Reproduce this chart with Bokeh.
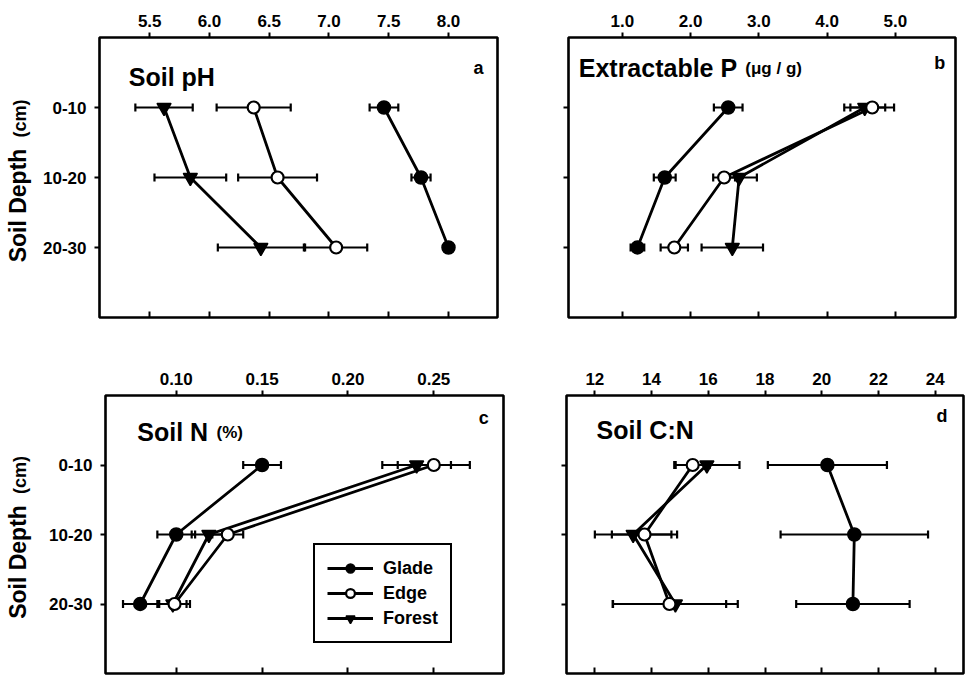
import math
from bokeh.plotting import figure
from bokeh.models import (Range1d, LinearAxis, FixedTicker, Whisker, TeeHead,
                          ColumnDataSource, Label, Legend, LegendItem, PrintfTickFormatter)
from bokeh.layouts import row, column
from bokeh.embed import file_html
from bokeh.resources import INLINE

# ---------------- data ----------------
depth_pos = [1, 2, 3]
depth_labels = ["0-10", "10-20", "20-30"]
series_names = ["Glade", "Edge", "Forest"]

ph_glade = [7.46, 7.77, 8.00]
ph_glade_se = [0.12, 0.08, 0.03]
ph_edge = [6.37, 6.57, 7.06]
ph_edge_se = [0.31, 0.33, 0.26]
ph_forest = [5.62, 5.84, 6.43]
ph_forest_se = [0.24, 0.30, 0.36]

p_glade = [2.55, 1.62, 1.22]
p_glade_se = [0.21, 0.16, 0.10]
p_edge = [4.66, 2.49, 1.76]
p_edge_se = [0.32, 0.16, 0.20]
p_forest = [4.55, 2.71, 2.61]
p_forest_se = [0.30, 0.26, 0.45]

n_glade = [0.150, 0.100, 0.079]
n_glade_se = [0.011, 0.011, 0.010]
n_edge = [0.250, 0.130, 0.099]
n_edge_se = [0.021, 0.009, 0.009]
n_forest = [0.240, 0.119, 0.098]
n_forest_se = [0.020, 0.010, 0.008]

cn_glade = [20.2, 21.15, 21.1]
cn_glade_se = [2.1, 2.6, 2.0]
cn_edge = [15.45, 13.75, 14.63]
cn_edge_se = [0.6, 1.15, 2.0]
cn_forest = [15.95, 13.35, 14.84]
cn_forest_se = [1.15, 1.35, 2.2]

ph_ticks = [5.5, 6.0, 6.5, 7.0, 7.5, 8.0]
p_ticks = [1.0, 2.0, 3.0, 4.0, 5.0]
n_ticks = [0.10, 0.15, 0.20, 0.25]
cn_ticks = [12, 14, 16, 18, 20, 22, 24]

y_title = ["Soil Depth", "(cm)"]

FONT = "Liberation Sans"


def make_panel(x0, x1, ticks, fmt, width, height, bl, br, bt, bb, ylabels):
    p = figure(width=width, height=height, x_range=Range1d(x0, x1), y_range=Range1d(4, 0),
               x_axis_location="above", toolbar_location=None, output_backend="svg",
               min_border_left=bl, min_border_right=br, min_border_top=bt, min_border_bottom=bb,
               background_fill_color="white", border_fill_color="white")
    p.grid.visible = False
    p.outline_line_color = "black"
    p.outline_line_width = 2.6
    p.outline_line_alpha = 1.0

    top = p.xaxis[0]
    top.ticker = FixedTicker(ticks=ticks, minor_ticks=[])
    top.formatter = PrintfTickFormatter(format=fmt)
    top.axis_line_color = None
    top.major_tick_in = 0
    top.major_tick_out = 5
    top.major_tick_line_width = 2
    top.major_tick_line_color = "black"
    top.minor_tick_line_color = None
    top.major_label_text_font = FONT
    top.major_label_text_font_style = "bold"
    top.major_label_text_font_size = "17px"
    top.major_label_text_color = "black"
    top.major_label_standoff = 6

    bot = LinearAxis(ticker=FixedTicker(ticks=ticks, minor_ticks=[]))
    bot.axis_line_color = None
    bot.major_tick_in = 6
    bot.major_tick_out = 0
    bot.major_tick_line_width = 2
    bot.major_tick_line_color = "black"
    bot.minor_tick_line_color = None
    bot.major_label_text_color = None
    bot.major_label_standoff = 0
    p.add_layout(bot, "below")

    ya = p.yaxis[0]
    ya.ticker = FixedTicker(ticks=depth_pos, minor_ticks=[])
    ya.axis_line_color = None
    ya.major_tick_in = 0
    ya.major_tick_out = 5
    ya.major_tick_line_width = 2
    ya.major_tick_line_color = "black"
    ya.minor_tick_line_color = None
    if ylabels:
        ya.major_label_overrides = {d: lab for d, lab in zip(depth_pos, depth_labels)}
        ya.major_label_text_font = FONT
        ya.major_label_text_font_style = "bold"
        ya.major_label_text_font_size = "17px"
        ya.major_label_text_color = "black"
        ya.major_label_standoff = 8
    else:
        ya.major_label_text_color = None
        ya.major_label_standoff = 0
    return p


def add_series(p, vals, se, style):
    lo = [v - s for v, s in zip(vals, se)]
    hi = [v + s for v, s in zip(vals, se)]
    src = ColumnDataSource(dict(x=vals, y=depth_pos, lo=lo, hi=hi))
    w = Whisker(source=src, base="y", lower="lo", upper="hi", dimension="width",
                line_color="black", line_width=2.2,
                upper_head=TeeHead(size=8, line_width=2.2, line_color="black"),
                lower_head=TeeHead(size=8, line_width=2.2, line_color="black"))
    p.add_layout(w)
    ln = p.line("x", "y", source=src, line_color="black", line_width=2.8)
    if style == "Glade":
        sc = p.scatter("x", "y", source=src, marker="circle", size=13,
                       fill_color="black", line_color="black", line_width=1.5)
    elif style == "Edge":
        sc = p.scatter("x", "y", source=src, marker="circle", size=12,
                       fill_color="white", line_color="black", line_width=2.2)
    else:
        sc = p.scatter("x", "y", source=src, marker="inverted_triangle", size=14,
                       fill_color="black", line_color="black", line_width=1.5)
    return ln, sc


def add_text(p, x, y, txt, size, angle=0.0, align="left", baseline="alphabetic"):
    p.add_layout(Label(x=x, y=y, text=txt, text_font=FONT, text_font_style="bold",
                       text_font_size=size, text_color="black", angle=angle,
                       text_align=align, text_baseline=baseline))


def make_ylabel_fig(height, frame_h, y_main, y_unit):
    # frame of this strip is aligned with the neighbouring panel's frame
    f = figure(width=40, height=height, x_range=Range1d(0, 40), y_range=Range1d(0, frame_h),
               x_axis_location=None, y_axis_location=None, toolbar_location=None,
               output_backend="svg", min_border=0, outline_line_color=None,
               background_fill_color="white", border_fill_color="white")
    f.grid.visible = False
    add_text(f, 17, y_main, y_title[0], "23px", math.pi / 2, "center", "middle")
    add_text(f, 19, y_unit, y_title[1], "18px", math.pi / 2, "center", "middle")
    return f


# ---------------- panel a ----------------
pa = make_panel(5.08, 8.41, ph_ticks, "%.1f", 498, 327, 58, 41, 37, 10, True)
add_series(pa, ph_forest, ph_forest_se, "Forest")
add_series(pa, ph_edge, ph_edge_se, "Edge")
add_series(pa, ph_glade, ph_glade_se, "Glade")
add_text(pa, 5.325, 0.57, "Soil pH", "25px")
add_text(pa, 8.21, 0.43, "a", "18px")

# ---------------- panel b ----------------
pb = make_panel(0.21, 5.88, p_ticks, "%.1f", 429, 327, 30, 12, 37, 10, False)
add_series(pb, p_forest, p_forest_se, "Forest")
add_series(pb, p_edge, p_edge_se, "Edge")
add_series(pb, p_glade, p_glade_se, "Glade")
add_text(pb, 0.36, 0.44, "Extractable P", "25px")
add_text(pb, 2.80, 0.44, "(\u03bcg / g)", "17px")
add_text(pb, 5.57, 0.37, "b", "18px")

# ---------------- panel c ----------------
pc = make_panel(0.0588, 0.2906, n_ticks, "%.2f", 496, 348, 65, 33, 68, 2, True)
rend = {}
for name, vals, se in [("Forest", n_forest, n_forest_se), ("Edge", n_edge, n_edge_se),
                       ("Glade", n_glade, n_glade_se)]:
    rend[name] = add_series(pc, vals, se, name)
items = [LegendItem(label=name, renderers=list(rend[name])) for name in series_names]
leg = Legend(items=items, location=(208, 30), border_line_color="black", border_line_width=2.2,
             border_line_alpha=1.0, background_fill_color="white", background_fill_alpha=1.0,
             label_text_font=FONT, label_text_font_style="bold", label_text_font_size="18px",
             label_text_color="black",
             glyph_width=46, glyph_height=22, label_height=22, label_standoff=10,
             padding=12, spacing=3, margin=0)
pc.add_layout(leg)
add_text(pc, 0.0773, 0.53, "Soil N", "25px")
add_text(pc, 0.1235, 0.53, "(%)", "17px")
add_text(pc, 0.2762, 0.33, "c", "18px")

# ---------------- panel d ----------------
pd_ = make_panel(11.0, 25.0, cn_ticks, "%d", 431, 348, 30, 4, 68, 2, False)
add_series(pd_, cn_forest, cn_forest_se, "Forest")
add_series(pd_, cn_edge, cn_edge_se, "Edge")
add_series(pd_, cn_glade, cn_glade_se, "Glade")
add_text(pd_, 12.06, 0.50, "Soil C:N", "25px")
add_text(pd_, 24.05, 0.29, "d", "18px")

la = make_ylabel_fig(327, 280, 112, 199)
lc = make_ylabel_fig(348, 278, 111.5, 198.5)

layout = column(row(la, pa, pb), row(lc, pc, pd_))
open("out.html", "w").write(file_html(layout, INLINE))
